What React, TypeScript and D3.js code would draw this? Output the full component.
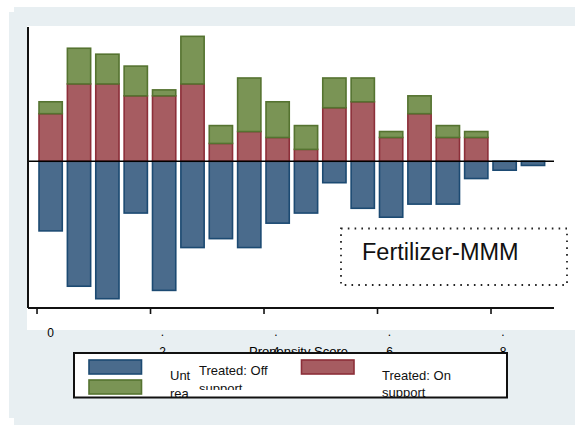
import { useEffect, useRef } from "react";
import * as d3 from "d3";

// ── Data ──────────────────────────────────────────────────────────────────────

// propensity score bin midpoints
const BIN_MID = [0.24, 0.74, 1.24, 1.74, 2.24, 2.74, 3.24, 3.74, 4.24, 4.74, 5.24, 5.74, 6.24, 6.74, 7.24, 7.74, 8.24, 8.74];

// treated on support (red, above zero)
const TREATED_ON  = [8, 13, 13, 11, 11, 13, 3, 5, 4, 2, 9, 10, 4, 8, 4, 4, 0, 0];
// treated off support (green, stacked on red)
const TREATED_OFF = [2, 6, 5, 5, 1, 8, 3, 9, 6, 4, 5, 4, 1, 3, 2, 1, 0, 0];
// untreated (blue, below zero)
const UNTREATED   = [11.7, 21, 23.1, 8.7, 21.7, 14.5, 13, 14.5, 10.4, 8.7, 3.6, 7.9, 9.4, 7.2, 7.2, 2.9, 1.5, 0.7];

const X_TICKS = [0, 2, 4, 6, 8];

// ── Config ────────────────────────────────────────────────────────────────────

const W = 575;
const H = 425;
const FONT = "'Liberation Sans', Arial, sans-serif";
const BG = "#e8eff2";

const COLORS = {
  untreated: { fill: "#4a6b8c", stroke: "#1c4a72" },
  on:        { fill: "#a65c61", stroke: "#8c2f39" },
  off:       { fill: "#7a9455", stroke: "#557330" },
};

const PLOT = { left: 28, right: 554, top: 27, bottom: 308 };
const BAR_W = 0.41;

// ── Component ─────────────────────────────────────────────────────────────────

const App = () => {
  const svgRef = useRef<SVGSVGElement>(null);

  useEffect(() => {
    if (!svgRef.current) return;
    const svg = d3.select(svgRef.current);
    svg.selectAll("*").remove();

    // background panels
    svg.append("rect").attr("x", 0).attr("y", 0).attr("width", W).attr("height", H).attr("fill", "white");
    svg.append("rect").attr("x", 14).attr("y", 7).attr("width", W - 14).attr("height", H - 7).attr("fill", BG);
    svg.append("rect").attr("x", 9).attr("y", 12).attr("width", 20).attr("height", 406).attr("fill", BG);
    svg.append("rect").attr("x", 27).attr("y", 26).attr("width", W - 27).attr("height", 304).attr("fill", "white");

    const x = d3.scaleLinear().domain([-0.159, 9.11]).range([PLOT.left, PLOT.right]);
    const y = d3.scaleLinear().domain([-24.66, 22.57]).range([PLOT.bottom, PLOT.top]);

    const rows = BIN_MID.map((m, i) => ({
      mid: m,
      on: TREATED_ON[i],
      off: TREATED_OFF[i],
      un: UNTREATED[i],
    }));

    const g = svg.append("g");
    const bw = x(BAR_W) - x(0);

    // untreated bars
    g.selectAll(".un")
      .data(rows)
      .join("rect")
      .attr("x", (d) => x(d.mid) - bw / 2)
      .attr("y", y(0))
      .attr("width", bw)
      .attr("height", (d) => y(-d.un) - y(0))
      .attr("fill", COLORS.untreated.fill)
      .attr("stroke", COLORS.untreated.stroke)
      .attr("stroke-width", 1.6);

    // treated on support
    g.selectAll(".on")
      .data(rows.filter((d) => d.on > 0))
      .join("rect")
      .attr("x", (d) => x(d.mid) - bw / 2)
      .attr("y", (d) => y(d.on))
      .attr("width", bw)
      .attr("height", (d) => y(0) - y(d.on))
      .attr("fill", COLORS.on.fill)
      .attr("stroke", COLORS.on.stroke)
      .attr("stroke-width", 1.6);

    // treated off support, stacked
    g.selectAll(".off")
      .data(rows.filter((d) => d.off > 0))
      .join("rect")
      .attr("x", (d) => x(d.mid) - bw / 2)
      .attr("y", (d) => y(d.on + d.off))
      .attr("width", bw)
      .attr("height", (d) => y(d.on) - y(d.on + d.off))
      .attr("fill", COLORS.off.fill)
      .attr("stroke", COLORS.off.stroke)
      .attr("stroke-width", 1.6);

    // zero line
    svg.append("line")
      .attr("x1", PLOT.left).attr("x2", PLOT.right)
      .attr("y1", y(0)).attr("y2", y(0))
      .attr("stroke", "black").attr("stroke-width", 1.6);

    // axes lines
    svg.append("line")
      .attr("x1", PLOT.left).attr("x2", PLOT.left)
      .attr("y1", PLOT.top).attr("y2", PLOT.bottom)
      .attr("stroke", "#111").attr("stroke-width", 2);
    svg.append("line")
      .attr("x1", PLOT.left).attr("x2", PLOT.right)
      .attr("y1", PLOT.bottom).attr("y2", PLOT.bottom)
      .attr("stroke", "#111").attr("stroke-width", 2);

    // ticks
    svg.selectAll(".tick")
      .data(X_TICKS)
      .join("line")
      .attr("x1", (d) => x(d)).attr("x2", (d) => x(d))
      .attr("y1", PLOT.bottom).attr("y2", PLOT.bottom + 6)
      .attr("stroke", "#111").attr("stroke-width", 1.6);

    // tick labels (oddly offset, as in original)
    svg.append("text")
      .attr("x", x(0) + 13.5).attr("y", 337)
      .attr("text-anchor", "middle")
      .attr("font-family", FONT).attr("font-size", 12)
      .text("0");

    const rest = X_TICKS.slice(1);
    svg.selectAll(".dot")
      .data(rest)
      .join("text")
      .attr("x", (d) => x(d) + 12).attr("y", 336)
      .attr("text-anchor", "middle")
      .attr("font-family", FONT).attr("font-size", 12)
      .text(".");
    svg.selectAll(".tl")
      .data(rest)
      .join("text")
      .attr("x", (d) => x(d) + 12).attr("y", 356)
      .attr("text-anchor", "middle")
      .attr("font-family", FONT).attr("font-size", 12)
      .text((d) => String(d));

    svg.append("text")
      .attr("x", 298.5).attr("y", 356)
      .attr("text-anchor", "middle")
      .attr("font-family", FONT).attr("font-size", 13)
      .text("Propensity Score");

    // dotted annotation box
    svg.append("rect")
      .attr("x", 341).attr("y", 228.5)
      .attr("width", 226).attr("height", 56.5)
      .attr("fill", "none")
      .attr("stroke", "#222")
      .attr("stroke-width", 1.8)
      .attr("stroke-dasharray", "1.6,5.2");
    svg.append("text")
      .attr("x", 362).attr("y", 260)
      .attr("font-family", FONT).attr("font-size", 23.5)
      .attr("fill", "#111")
      .text("Fertilizer-MMM");

    // legend
    const lg = svg.append("g");
    lg.append("rect")
      .attr("x", 74).attr("y", 353)
      .attr("width", 433).attr("height", 44.5)
      .attr("fill", "white")
      .attr("stroke", "#111")
      .attr("stroke-width", 2);

    const defs = svg.append("defs");
    defs.append("clipPath").attr("id", "clipA")
      .append("rect").attr("x", 74).attr("y", 353).attr("width", 433).attr("height", 44);
    defs.append("clipPath").attr("id", "clipB")
      .append("rect").attr("x", 74).attr("y", 353).attr("width", 433).attr("height", 37);

    const swatches = [
      { x: 89, y: 360, c: COLORS.untreated },
      { x: 89, y: 380, c: COLORS.off },
      { x: 301.5, y: 360, c: COLORS.on },
    ];
    lg.selectAll(".sw")
      .data(swatches)
      .join("rect")
      .attr("x", (d) => d.x).attr("y", (d) => d.y)
      .attr("width", 52.5).attr("height", 14)
      .attr("fill", (d) => d.c.fill)
      .attr("stroke", (d) => d.c.stroke)
      .attr("stroke-width", 1.6);

    const labels = [
      { x: 170, y: 380, t: "Unt", clip: "clipA" },
      { x: 170, y: 397.5, t: "rea", clip: "clipA" },
      { x: 199, y: 375, t: "Treated: Off", clip: "clipA" },
      { x: 199, y: 393, t: "support", clip: "clipB" },
      { x: 382, y: 380, t: "Treated: On", clip: "clipA" },
      { x: 382, y: 397, t: "support", clip: "clipA" },
    ];
    lg.selectAll(".lt")
      .data(labels)
      .join("text")
      .attr("x", (d) => d.x).attr("y", (d) => d.y)
      .attr("clip-path", (d) => `url(#${d.clip})`)
      .attr("font-family", FONT).attr("font-size", 13)
      .attr("fill", "#111")
      .text((d) => d.t);
  }, []);

  return (
    <svg
      ref={svgRef}
      width={W}
      height={H}
      style={{ position: "fixed", left: 0, top: 0, display: "block" }}
    />
  );
};

export default App;
